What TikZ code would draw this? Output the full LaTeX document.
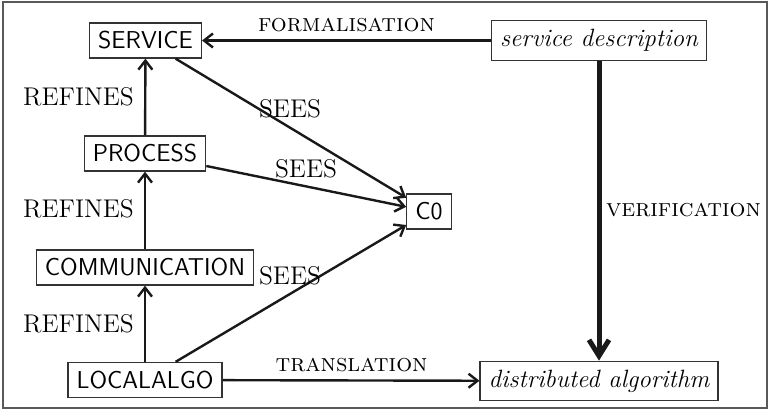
\documentclass[tikz,border=0pt]{standalone}
\usetikzlibrary{arrows.meta}
\begin{document}
\begin{tikzpicture}[x=0.5pt,y=-0.5pt,
  box/.style={draw=black!80,line width=0.6pt,inner sep=4.3pt,font=\fontsize{12.2}{14}\sffamily},
  ibox/.style={draw=black!80,line width=0.6pt,inner sep=4.3pt,font=\fontsize{12.5}{15}\selectfont\itshape},
  lab/.style={inner sep=0pt,anchor=base,font=\fontsize{12.8}{15}\selectfont},
  sclab/.style={inner sep=0pt,anchor=base,font=\fontsize{12.5}{15}\selectfont\scshape},
  arr/.style={-{Straight Barb[length=4.5pt,width=7pt,line width=1.2pt]},line width=1.2pt,black!90},
  bigarr/.style={-{Straight Barb[length=8pt,width=10pt,line width=2.5pt]},line width=2.5pt,black!90}]
\useasboundingbox (0,0) rectangle (770,411);
\draw[black!65,line width=0.6pt] (3,2) rectangle (767,408);
\node[box] (serv) at (145.5,40.5) {SERVICE};
\node[box] (proc) at (145,153.5) {PROCESS};
\node[box] (comm) at (145,267.5) {COMMUNICATION};
\node[box] (loc) at (145,380) {LOCALALGO};
\node[box] (c0) at (429,211.5) {C0};
\node[ibox] (sd) at (599,40.5) {service description};
\node[ibox] (da) at (599,381) {distributed algorithm};
\draw[arr] (sd) -- (serv);
\draw[arr] (proc) -- (serv);
\draw[arr] (comm) -- (proc);
\draw[arr] (loc) -- (comm);
\draw[arr] (serv) -- (c0);
\draw[arr] (proc) -- (c0);
\draw[arr] (loc) -- (c0);
\draw[arr] (loc) -- (da);
\draw[bigarr] (sd) -- (da);
\node[sclab] (lf) at (346.5,32) {formalisation};
\node[sclab] (lt) at (351.5,371) {translation};
\node[sclab] (lv) at (683.5,217) {verification};
\node[lab] (r1) at (78.5,106) {REFINES};
\node[lab] (r2) at (78.5,218) {REFINES};
\node[lab] (r3) at (78.5,332) {REFINES};
\node[lab] (s1) at (290,118) {SEES};
\node[lab] (s2) at (306,177) {SEES};
\node[lab] (s3) at (290,285) {SEES};
\end{tikzpicture}
\end{document}
